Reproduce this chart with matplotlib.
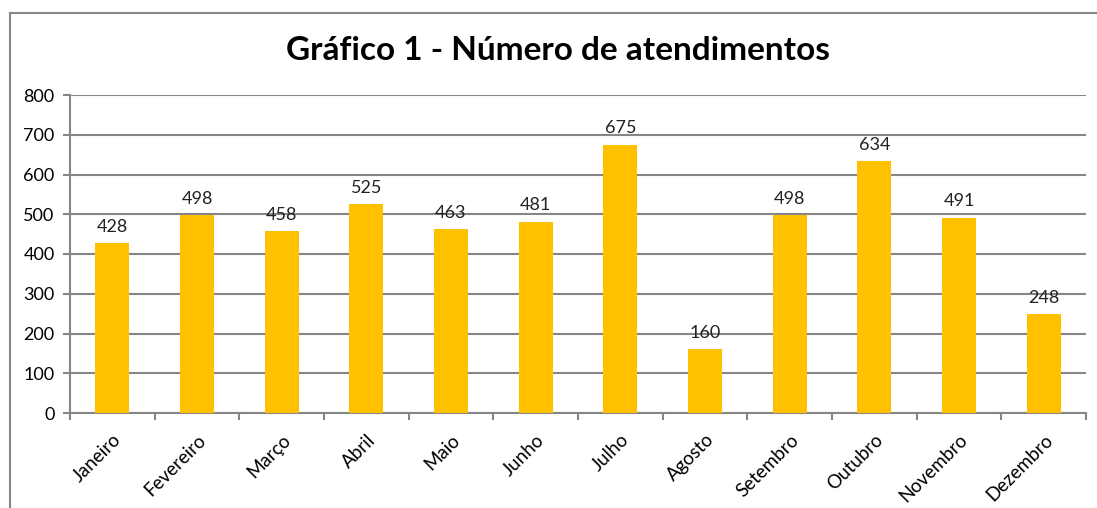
import matplotlib
matplotlib.use("Agg")
import matplotlib.pyplot as plt
from matplotlib.lines import Line2D
import numpy as np

plt.rcParams["font.family"] = ["Lato", "DejaVu Sans"]

meses = ["Janeiro", "Fevereiro", "Março", "Abril", "Maio", "Junho",
         "Julho", "Agosto", "Setembro", "Outubro", "Novembro", "Dezembro"]
atendimentos = [428, 498, 458, 525, 463, 481, 675, 160, 498, 634, 491, 248]
yticks = [0, 100, 200, 300, 400, 500, 600, 700, 800]

BAR = "#FFC000"
GRID = "#868686"

fig = plt.figure(figsize=(10.97, 5.08), dpi=100)
fig.patch.set_facecolor("white")
ax = fig.add_axes([70 / 1097, 1 - 413 / 508, (1086 - 70) / 1097, (413 - 95) / 508])

x = np.arange(len(meses))
ax.bar(x, atendimentos, width=0.4, color=BAR, zorder=3)
for xi, v in zip(x, atendimentos):
    ax.annotate(str(v), (xi, v), xytext=(0, 6), textcoords="offset points",
                ha="center", va="bottom", fontsize=13, color="#222222")

ax.set_xlim(-0.5, len(meses) - 0.5)
ax.set_ylim(0, 800)
ax.set_yticks(yticks)
ax.set_yticklabels([str(t) for t in yticks], fontsize=13)
ax.yaxis.grid(True, color=GRID, lw=1.5, zorder=0)
ax.set_axisbelow(True)

ax.set_xticks(x)
ax.set_xticklabels(meses, rotation=45, ha="right", rotation_mode="anchor",
                   fontsize=13.5)
ax.tick_params(axis="x", length=0, pad=13)
ax.set_xticks(np.arange(len(meses) + 1) - 0.5, minor=True)
ax.tick_params(axis="x", which="minor", length=5, color=GRID, width=1.5)
ax.tick_params(axis="y", length=5, color=GRID, width=1.5, pad=6)

for s in ("top", "right"):
    ax.spines[s].set_visible(False)
for s in ("left", "bottom"):
    ax.spines[s].set_color(GRID)
    ax.spines[s].set_linewidth(1.5)

fig.text(558 / 1097, 1 - 50 / 508, "Gráfico 1 - Número de atendimentos",
         ha="center", va="center", fontsize=24, fontweight="bold")

# moldura do gráfico (canto superior esquerdo)
x0, y0 = 9.5 / 1097, 1 - 12.5 / 508
fig.add_artist(Line2D([x0, x0], [0, y0], color=GRID, lw=1.5))
fig.add_artist(Line2D([x0, 1], [y0, y0], color=GRID, lw=1.5))

fig.savefig("out.png", dpi=100)
